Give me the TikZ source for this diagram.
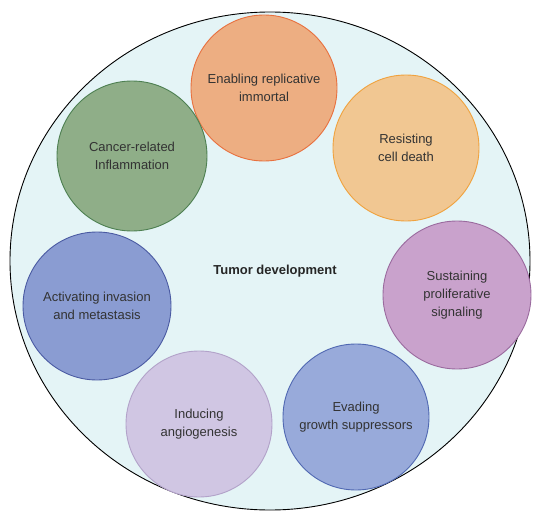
\documentclass[tikz,border=0pt]{standalone}
\usepackage{fontspec}
\setmainfont{Liberation Sans}
\usetikzlibrary{shapes.geometric}
\begin{document}
\begin{tikzpicture}[x=1pt,y=-1pt,
  hall/.style={circle, draw, line width=0.9pt, minimum size=146pt, inner sep=0pt, align=center, text=black!80, font=\fontsize{13}{18}\selectfont},
  lbl/.style={font=\bfseries\fontsize{13}{15}\selectfont, text=black!85}]
\useasboundingbox (0,0) rectangle (533,511);
\definecolor{bgc}{HTML}{E4F4F6}
\definecolor{orf}{HTML}{EDAE82}\definecolor{ord}{HTML}{E8703E}
\definecolor{lof}{HTML}{F1C792}\definecolor{lod}{HTML}{F0A23E}
\definecolor{grf}{HTML}{8FAE88}\definecolor{grd}{HTML}{4E8052}
\definecolor{blf}{HTML}{8A9CD2}\definecolor{bld}{HTML}{4A5AA2}
\definecolor{lvf}{HTML}{D0C6E3}\definecolor{lvd}{HTML}{B2A2C9}
\definecolor{evf}{HTML}{98AADA}\definecolor{evd}{HTML}{5068B2}
\definecolor{suf}{HTML}{C9A2CC}\definecolor{sud}{HTML}{9A6A9E}
\node[ellipse, draw=black, line width=0.9pt, fill=bgc, minimum width=520pt, minimum height=498pt, inner sep=0pt] (big) at (270,261) {};
\node[lbl] (t) at (275,271) {Tumor development};
\node[hall, fill=orf, draw=ord] (e) at (264,88) {Enabling replicative\\immortal};
\node[hall, fill=lof, draw=lod] (r) at (406,148) {Resisting\\cell death};
\node[hall, fill=grf, draw=grd, minimum size=150pt] (c) at (132,156) {Cancer-related\\Inflammation};
\node[hall, fill=blf, draw=bld, minimum size=148pt] (a) at (97,306) {Activating invasion\\and metastasis};
\node[hall, fill=lvf, draw=lvd] (i) at (199,424) {Inducing\\angiogenesis};
\node[hall, fill=evf, draw=evd] (v) at (356,417) {Evading\\growth suppressors};
\node[hall, fill=suf, draw=sud, minimum size=148pt] (s) at (457,295) {Sustaining\\proliferative\\signaling};
\end{tikzpicture}
\end{document}
